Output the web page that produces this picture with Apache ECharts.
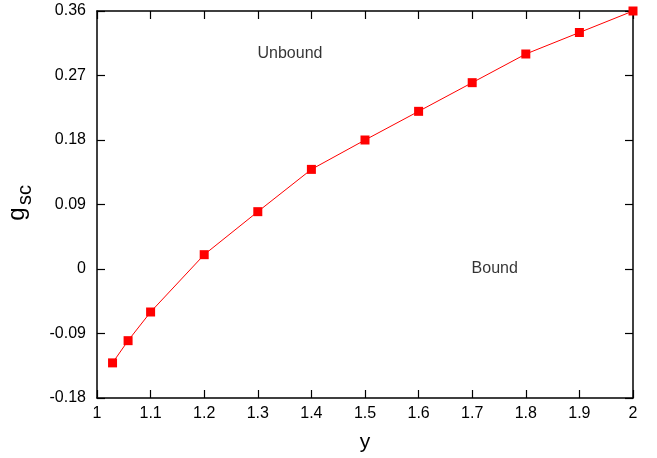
<!DOCTYPE html>
<html>
<head>
<meta charset="utf-8">
<script src="https://cdn.jsdelivr.net/npm/echarts@6/dist/echarts.min.js"></script>
<style>html,body{margin:0;padding:0;background:#fff}#c{width:657px;height:458px}</style>
</head>
<body>
<div id="c"></div>
<script>
const xValues = [1.029, 1.058, 1.1, 1.2, 1.3, 1.4, 1.5, 1.6, 1.7, 1.8, 1.9, 2.0];
const gscValues = [-0.131, -0.100, -0.060, 0.020, 0.080, 0.139, 0.180, 0.220, 0.260, 0.300, 0.330, 0.360];
const xTicks = [1, 1.1, 1.2, 1.3, 1.4, 1.5, 1.6, 1.7, 1.8, 1.9, 2];
const yTicks = [-0.18, -0.09, 0, 0.09, 0.18, 0.27, 0.36];
const annotations = [
  { text: 'Unbound', x: 1.36, y: 0.30 },
  { text: 'Bound', x: 1.742, y: 0.0 }
];
const xTitle = 'y';
const yTitleMain = 'g';
const yTitleSub = 'sc';

const font = 'Liberation Sans, Arial, Helvetica, sans-serif';
const chart = echarts.init(document.getElementById('c'), null, { renderer: 'canvas' });

const axisLine = { show: true, onZero: false, lineStyle: { color: '#000', width: 1.5 } };
const tickStyle = { show: true, inside: true, length: 8, lineStyle: { color: '#000', width: 1.2 } };

const mainX = {
  type: 'value', min: xTicks[0], max: xTicks[xTicks.length - 1], interval: 0.1,
  position: 'bottom',
  axisLine: axisLine, axisTick: tickStyle, splitLine: { show: false },
  axisLabel: { color: '#000', fontSize: 16, fontFamily: font, margin: 8,
    formatter: v => { const r = Math.round(v * 10) / 10; return xTicks.some(t => Math.abs(t - r) < 1e-9) ? String(r) : ''; } },
  name: xTitle, nameLocation: 'middle', nameGap: 34,
  nameTextStyle: { color: '#000', fontSize: 21, fontFamily: font }
};
const topX = Object.assign({}, mainX, { position: 'top', axisLabel: { show: false }, name: '' });

const mainY = {
  type: 'value', min: yTicks[0], max: yTicks[yTicks.length - 1], interval: 0.09,
  position: 'left',
  axisLine: axisLine, axisTick: tickStyle, splitLine: { show: false },
  axisLabel: { color: '#000', fontSize: 16, fontFamily: font, margin: 11,
    formatter: v => { const r = Math.round(v * 100) / 100; return String(r); } }
};
const rightY = Object.assign({}, mainY, { position: 'right', axisLabel: { show: false } });

chart.setOption({
  backgroundColor: '#fff',
  animation: false,
  grid: { left: 97, right: 24, top: 11, bottom: 57, containLabel: false },
  xAxis: [mainX, topX],
  yAxis: [mainY, rightY],
  graphic: [
    { type: 'text', x: 17, y: 214, rotation: Math.PI / 2,
      style: { text: yTitleMain, fontSize: 24, fontFamily: font, fill: '#000', align: 'center', verticalAlign: 'middle' } },
    { type: 'text', x: 25.5, y: 195, rotation: Math.PI / 2,
      style: { text: yTitleSub, fontSize: 20, fontFamily: font, fill: '#000', align: 'center', verticalAlign: 'middle' } }
  ],
  series: [
    {
      type: 'line',
      data: xValues.map((x, i) => [x, gscValues[i]]),
      symbol: 'rect', symbolSize: 9,
      itemStyle: { color: '#ff0000' },
      lineStyle: { color: '#ff0000', width: 1 },
      clip: false,
      z: 3
    },
    {
      type: 'scatter',
      data: annotations.map(a => ({ value: [a.x, a.y], name: a.text })),
      symbolSize: 0,
      label: { show: true, position: 'inside', formatter: p => p.name,
        color: '#000', fontSize: 16, fontFamily: font },
      silent: true
    }
  ]
});
</script>
</body>
</html>
